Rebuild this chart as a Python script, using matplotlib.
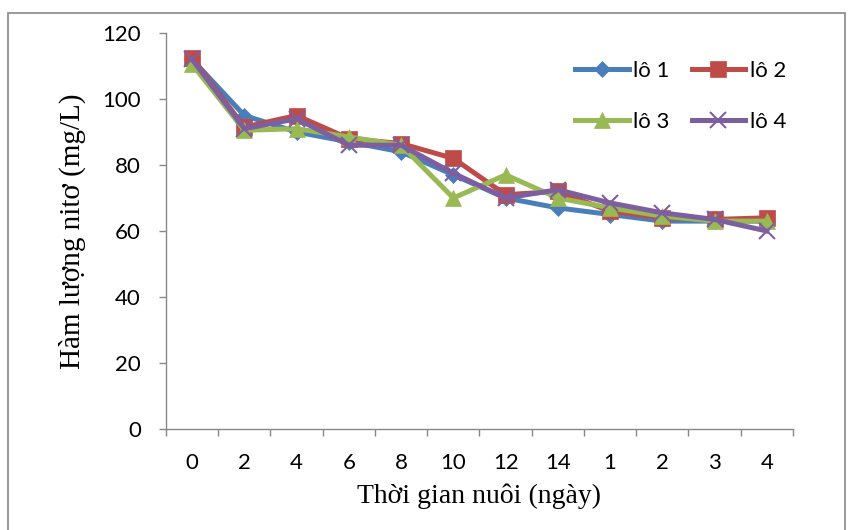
import matplotlib.pyplot as plt
from matplotlib.patches import Rectangle

# time labels (days, then extra sampling points)
labels = ['0', '2', '4', '6', '8', '10', '12', '14', '1', '2', '3', '4']

lo1 = [112, 95, 90, 87, 84, 77, 70, 67, 65, 63, 63, 63]
lo2 = [112.5, 91.5, 95, 88, 86.5, 82, 71, 72, 66, 64, 63.5, 64]
lo3 = [110.5, 90.5, 91, 88.5, 86, 70, 77, 70, 67, 64.5, 63, 63]
lo4 = [112, 91, 94, 86, 86, 77.5, 70, 72.5, 68.5, 65.5, 63.5, 60]

series = [('lô 1', lo1), ('lô 2', lo2), ('lô 3', lo3), ('lô 4', lo4)]
colors = ['#4A7EBB', '#BE4B48', '#98B954', '#7D5FA0']
markers = ['D', 's', '^', 'x']
msizes = [8.5, 11, 12, 11]

tick_font = 'Lato'
label_font = 'Liberation Serif'

fig = plt.figure(figsize=(8.53, 5.30), dpi=100)
ax = fig.add_axes([166/853, 1-429/530, (793-166)/853, (429-33)/530])

x = list(range(len(labels)))
handles = []
for (name, vals), c, m, ms in zip(series, colors, markers, msizes):
  h, = ax.plot(x, vals, color=c, lw=3.6, marker=m, markersize=ms,
               markeredgewidth=1.5 if m == 'x' else 0.5, markeredgecolor=c,
               markerfacecolor=c, label=name, solid_joinstyle='round')
  handles.append(h)

ax.set_xlim(-0.5, len(labels)-0.5)
ax.set_ylim(0, 120)
ax.set_yticks(range(0, 121, 20))
ax.set_xticks(x)
ax.set_xticklabels(labels)
ax.set_xticks([i-0.5 for i in range(len(labels)+1)], minor=True)
ax.tick_params(axis='x', which='major', length=0, pad=17)
ax.tick_params(axis='x', which='minor', length=5, color='#888888', width=1)
ax.tick_params(axis='y', length=5, color='#888888', width=1, pad=13)
for lab in ax.get_xticklabels() + ax.get_yticklabels():
  lab.set_fontfamily(tick_font)
  lab.set_fontsize(16)

for s in ['top', 'right']:
  ax.spines[s].set_visible(False)
for s in ['left', 'bottom']:
  ax.spines[s].set_color('#888888')
  ax.spines[s].set_linewidth(1)

ax.set_ylabel('Hàm lượng nitơ (mg/L)', fontfamily=label_font, fontsize=21, labelpad=12)
ax.set_xlabel('Thời gian nuôi (ngày)', fontfamily=label_font, fontsize=20, labelpad=8)

# legend filled row by row like the original: lô 1, lô 2 / lô 3, lô 4
order = [0, 2, 1, 3]
leg = ax.legend([handles[i] for i in order], [series[i][0] for i in order],
                ncol=2, frameon=False, loc='upper left', bbox_to_anchor=(0.621, 0.98),
                prop={'family': tick_font, 'size': 16}, handlelength=2.4,
                handletextpad=0.2, columnspacing=1.0, labelspacing=1.4)

# outer chart border
fig.add_artist(Rectangle((8/853, -0.01), (845-8)/853, 1.01-13/530,
                         transform=fig.transFigure, fill=False,
                         edgecolor='#888888', lw=1.2))

plt.savefig('out.png', dpi=100)
